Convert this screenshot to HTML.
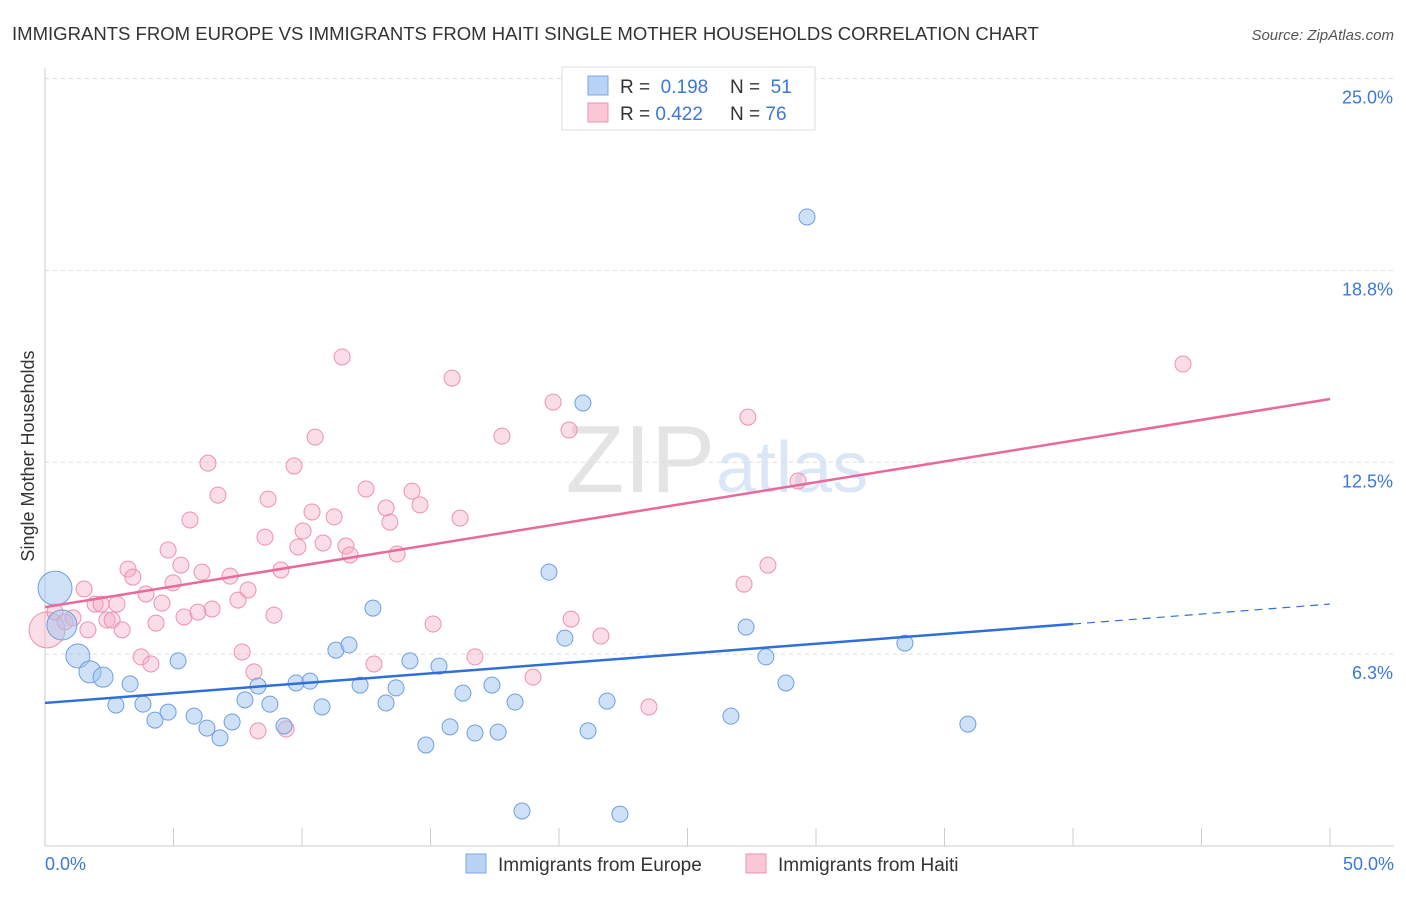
<!DOCTYPE html>
<html><head><meta charset="utf-8"><style>
body{margin:0;background:#fff;font-family:"Liberation Sans",sans-serif;}
svg text{font-family:"Liberation Sans",sans-serif;}
</style></head><body>
<svg width="1406" height="892" id="chart">
<text x="12" y="40" font-size="18.55" fill="#333">IMMIGRANTS FROM EUROPE VS IMMIGRANTS FROM HAITI SINGLE MOTHER HOUSEHOLDS CORRELATION CHART</text>
<text x="1394" y="40" font-size="15" fill="#555" text-anchor="end" font-style="italic">Source: ZipAtlas.com</text>
<text x="715" y="492" font-size="96" fill="#e4e4e4" text-anchor="end" font-family="Liberation Serif">ZIP</text>
<text x="716" y="492" font-size="72" fill="#dbe7f6">atlas</text>
<text x="34" y="456" font-size="18" fill="#333" text-anchor="middle" transform="rotate(-90 34 456)">Single Mother Households</text>
<g id="grid"></g><g id="marks"></g>
<g>
<rect x="562" y="67" width="253" height="63" fill="#fff" stroke="#ddd"/>
<rect x="588" y="76" width="20" height="19" fill="#b9d3f5" stroke="#7aa7e3"/>
<rect x="588" y="103" width="20" height="19" fill="#f9c7d6" stroke="#ec93ae"/>
<text x="620" y="93" font-size="19" fill="#333">R = <tspan fill="#3b78d8">&#160;0.198</tspan></text>
<text x="730" y="93" font-size="19" fill="#333">N = <tspan fill="#3b78d8">&#160;51</tspan></text>
<text x="620" y="120" font-size="19" fill="#333">R = <tspan fill="#3b78d8">0.422</tspan></text>
<text x="730" y="120" font-size="19" fill="#333">N = <tspan fill="#3b78d8">76</tspan></text>
</g>
<g>
<rect x="466" y="854" width="20" height="19" fill="#b9d3f5" stroke="#7aa7e3"/>
<text x="498" y="871" font-size="19" fill="#333">Immigrants from Europe</text>
<rect x="746" y="854" width="20" height="19" fill="#f9c7d6" stroke="#ec93ae"/>
<text x="778" y="871" font-size="19" fill="#333">Immigrants from Haiti</text>
</g>
</svg>
<script>
const yTicks=[6.25,12.5,18.75,25];
const yTickLabels=["6.3%","12.5%","18.8%","25.0%"];
const xTickLabels=["0.0%","50.0%"];
const europeX=[0.39,0.66,1.28,1.75,2.26,2.76,3.31,3.81,4.28,4.79,5.18,5.80,6.30,6.81,7.28,7.78,8.29,8.75,9.30,9.77,10.31,10.78,11.32,11.83,12.26,12.76,13.27,13.66,14.20,14.82,15.33,15.76,16.26,16.73,17.39,17.63,18.29,18.56,19.61,20.23,20.93,21.13,21.87,22.37,26.69,27.28,28.05,28.83,29.65,33.46,35.91];
const europeY=[8.40,7.20,6.19,5.67,5.50,4.59,5.28,4.62,4.10,4.36,6.03,4.23,3.84,3.52,4.04,4.76,5.21,4.62,3.91,5.31,5.37,4.53,6.38,6.55,5.24,7.75,4.66,5.15,6.03,3.29,5.86,3.88,4.98,3.68,5.24,3.71,4.69,1.14,8.92,6.77,14.43,3.75,4.72,1.04,4.23,7.13,6.16,5.31,20.49,6.61,3.97];
const europeSize=[17,15,12,11,10];
const haitiX=[0.08,0.39,0.78,1.09,1.52,1.67,1.95,2.18,2.41,2.61,2.80,3.00,3.23,3.42,3.74,3.93,4.12,4.32,4.55,4.79,4.98,5.29,5.41,5.64,5.95,6.11,6.34,6.50,6.73,7.20,7.51,7.67,7.90,8.13,8.29,8.56,8.68,8.91,9.18,9.38,9.69,9.84,10.04,10.39,10.51,10.82,11.25,11.56,11.71,11.87,12.49,12.80,13.27,13.42,13.70,14.28,14.59,15.10,15.84,16.15,16.73,17.78,18.99,19.77,20.39,20.47,21.63,23.50,27.20,27.35,28.13,29.30,44.28];
const haitiY=[7.04,7.62,7.30,7.43,8.37,7.04,7.88,7.88,7.36,7.36,7.88,7.04,9.02,8.76,6.16,8.21,5.93,7.26,7.91,9.64,8.57,9.15,7.46,10.62,7.62,8.92,12.47,7.72,11.43,8.79,8.01,6.32,8.34,5.67,3.75,10.06,11.30,7.52,8.99,3.81,12.38,9.74,10.26,10.88,13.32,9.87,10.72,15.93,9.77,9.48,11.63,5.93,11.01,10.55,9.51,11.56,11.11,7.23,15.24,10.68,6.16,13.35,5.50,14.46,13.55,7.39,6.84,4.53,8.53,13.97,9.15,11.89,15.70];
const haitiSize=[18];
const europeTrend=[4.66,7.23,7.88]; // at x=0,40,50
const haitiTrend=[7.78,14.56]; // at x=0,50
const X=v=>45+v/50*1285, Y=v=>846-v*30.7;
const NS="http://www.w3.org/2000/svg";
const grid=document.getElementById('grid'), marks=document.getElementById('marks');
function mk(tag,attrs,parent){const e=document.createElementNS(NS,tag);for(const k in attrs)e.setAttribute(k,attrs[k]);parent.appendChild(e);return e;}
yTicks.forEach((t,i)=>{
 const l=mk('line',{x1:45,x2:1394,y1:Y(t),y2:Y(t),stroke:'#ddd','stroke-dasharray':'4 4'},grid);
 
 
 const tx=mk('text',{x:1393,y:Y(t)+25,'font-size':18,fill:'#3b78d8','text-anchor':'end'},grid);
 tx.textContent=yTickLabels[i];
 
 
});
const ax=mk('line',{x1:45,x2:1394,y1:846,y2:846,stroke:'#ccc'},grid);


const ay=mk('line',{x1:45,x2:45,y1:68,y2:846,stroke:'#ccc'},grid);


for(let i=0;i<=10;i++){const t=mk('line',{x1:X(i*5),x2:X(i*5),y1:828,y2:846,stroke:'#ccc'},grid);
 
 }
[[0,'start',45],[1,'end',1394]].forEach(([i,a,x])=>{const t=mk('text',{x:x,y:870,'font-size':18,fill:'#3b78d8','text-anchor':a},grid);t.textContent=xTickLabels[i];
 
 });
function pts(xs,ys,sz,fill,stroke,name){xs.forEach((v,i)=>{const c=mk('circle',{cx:X(v),cy:Y(ys[i]),r:sz[i]||8,fill:fill,stroke:stroke,'stroke-width':1},marks);
 
 });}
pts(haitiX,haitiY,haitiSize,'rgba(246,170,195,0.4)','#ec93ae','haiti-point');
pts(europeX,europeY,europeSize,'rgba(160,196,240,0.5)','#6f9fe0','europe-point');
const bl=mk('line',{x1:X(0),y1:Y(europeTrend[0]),x2:X(40),y2:Y(europeTrend[1]),stroke:'#2f6fd6','stroke-width':2.5},marks);


const bd=mk('line',{x1:X(40),y1:Y(europeTrend[1]),x2:X(50),y2:Y(europeTrend[2]),stroke:'#2f6fd6','stroke-width':1.2,'stroke-dasharray':'8 6'},marks);


const pl=mk('line',{x1:X(0),y1:Y(haitiTrend[0]),x2:X(50),y2:Y(haitiTrend[1]),stroke:'#e8699a','stroke-width':2.5},marks);


</script>
</body></html>
